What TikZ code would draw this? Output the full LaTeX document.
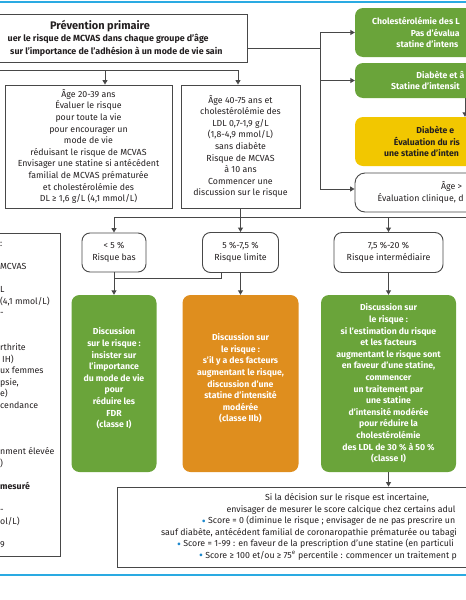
\documentclass[tikz,border=0pt]{standalone}
\usepackage{fontspec}
\setmainfont{Fira Sans}
\usetikzlibrary{positioning, arrows.meta}

\definecolor{linegray}{HTML}{484848}
\definecolor{inkgray}{HTML}{231F20}
\definecolor{boxgreen}{HTML}{6AA43A}
\definecolor{boxorange}{HTML}{DF8E1E}
\definecolor{boxyellow}{HTML}{F2C700}
\definecolor{rulerblue}{HTML}{2AAAE2}
\definecolor{dotblue}{HTML}{1E88CC}

\newcommand{\cacdot}{\raisebox{-1.4pt}{\color{dotblue}\fontsize{12}{11.6}\selectfont\textbullet}}

\tikzset{
   txt/.style={font=\fontsize{8.8}{11.6}\selectfont, text=inkgray},
   plainbox/.style={txt, draw=linegray, line width=0.9pt, align=center, inner sep=0pt},
   riskbox/.style={plainbox, rounded corners=8pt},
   colorbox/.style={align=center, inner sep=0pt, rounded corners=8pt,
      font=\fontsize{8.7}{11.6}\selectfont\bfseries},
   greenbox/.style={colorbox, fill=boxgreen, text=white},
   orangebox/.style={colorbox, fill=boxorange, text=white},
   yellowbox/.style={colorbox, fill=boxyellow, text=inkgray},
   frag/.style={txt, anchor=base west, inner sep=0pt},
   wire/.style={draw=linegray, line width=0.9pt}
}

\begin{document}
\begin{tikzpicture}[x=1pt, y=-1pt, node distance=126pt, on grid, >={Triangle[length=4.5pt, width=5pt]}]
   \useasboundingbox (0,0) rectangle (466,600);
   \draw[rulerblue, line width=2pt] (0,2) -- (466,2);
   \draw[rulerblue, line width=1.6pt] (0,575) -- (466,575);

   % top row
   \node[plainbox, font=\fontsize{8.9}{12.5}\selectfont\bfseries, minimum width=294pt, minimum height=48pt] (prev) at (100,38)
      {{\fontsize{11}{12.5}\selectfont Prévention primaire}\\
       \hphantom{Éval}uer le risque de MCVAS dans chaque groupe d'âge\\
       \hphantom{Insister }sur l'importance de l'adhésion à un mode de vie sain};
   \node[plainbox, minimum width=167pt, minimum height=123pt] (age_20) at (88.5,146.5)
      {Âge 20-39 ans\\Évaluer le risque\\pour toute la vie\\pour encourager un\\mode de vie\\
       réduisant le risque de MCVAS\\Envisager une statine si antécédent\\familial de MCVAS prématurée\\
       et cholestérolémie des\\DL ≥ 1,6 g/L (4,1 mmol/L)};
   \node[plainbox, minimum width=119pt, minimum height=123pt] (age_40) [right=152pt of age_20]
      {Âge 40-75 ans et\\cholestérolémie des\\LDL 0,7-1,9 g/L\\(1,8-4,9 mmol/L)\\sans diabète\\
       Risque de MCVAS\\à 10 ans\\Commencer une\\discussion sur le risque};

   % right column
   \node[greenbox, minimum width=220pt, minimum height=49pt] (ldl_high) at (465,32.5)
      {Cholestérolémie des L\hphantom{DL ≥ 1,9 g/L (4,9 mmol/L)}\\
       Pas d'évalua\hphantom{tion du risque :}\\
       statine d'intens\hphantom{ité élevée (classe I)}};
   \node[greenbox, minimum width=220pt, minimum height=35pt] (diab_mod) [below=48pt of ldl_high]
      {Diabète et â\hphantom{ge 40-75 ans}\\Statine d'intensit\hphantom{é modérée (classe I)}};
   \node[yellowbox, minimum width=220pt, minimum height=49pt] (diab_high) [below=61pt of diab_mod]
      {Diabète e\hphantom{t âge 40-75 ans}\\Évaluation du ris\hphantom{que pour envisager}\\
       une statine d'inten\hphantom{sité élevée (classe IIa)}};
   \node[riskbox, rounded corners=10pt, minimum width=220pt, minimum height=39pt] (age_75) [below=51pt of diab_high]
      {Âge >\hphantom{ 75 ans}\\Évaluation clinique, d\hphantom{iscussion sur le risque}};

   % risk classes
   \node[riskbox, minimum width=64pt, minimum height=39pt] (risk_low) at (114,252.5) {< 5 \%\\Risque bas};
   \node[riskbox, minimum width=76pt, minimum height=40pt] (risk_lim) [right=126.5pt of risk_low] {5 \%-7,5 \%\\Risque limite};
   \node[riskbox, minimum width=109pt, minimum height=40pt] (risk_mid) [right=148pt of risk_lim] {7,5 \%-20 \%\\Risque intermédiaire};

   \node[greenbox, minimum width=85pt, minimum height=177pt] (disc_low) [below=131pt of risk_low]
      {Discussion\\sur le risque :\\insister sur\\l'importance\\du mode de vie\\pour\\réduire les\\FDR\\(classe I)\\ \mbox{}};
   \node[orangebox, minimum width=116pt, minimum height=177pt] (disc_lim) [below=131pt of risk_lim]
      {Discussion sur\\le risque :\\s'il y a des facteurs\\augmentant le risque,\\discussion d'une\\
       statine d'intensité\\modérée\\(classe IIb)\\ \mbox{}};
   \node[greenbox, minimum width=135pt, minimum height=177pt] (disc_mid) [below=131pt of risk_mid]
      {Discussion sur\\le risque :\\si l'estimation du risque\\et les facteurs\\augmentant le risque sont\\
       en faveur d'une statine,\\commencer\\un traitement par\\une statine\\d'intensité modérée\\
       pour réduire la\\cholestérolémie\\des LDL de 30 \% à 50 \%\\(classe I)};

   \node[plainbox, minimum width=460pt, minimum height=80pt] (cac) at (347,527)
      {Si la décision sur le risque est incertaine,\\
       envisager de mesurer le score calcique chez certains adul\hphantom{tes}\\
       \cacdot{} Score = 0 (diminue le risque ; envisager de ne pas prescrire un\hphantom{e statine,}\\
       sauf diabète, antécédent familial de coronaropathie prématurée ou tabagi\hphantom{sme sont présents)}\\
       \cacdot{} Score = 1-99 : en faveur de la prescription d'une statine (en particuli\hphantom{er après 55 ans)}\\
       \cacdot{} Score ≥ 100 et/ou ≥ 75\textsuperscript{e} percentile : commencer un traitement p\hphantom{ar statine}};

   % left panel, cut by the page
   \node[plainbox, minimum width=65pt, minimum height=323pt] (panel) at (27.5,394.5) {};
   \node[frag] (p_1) at (0,246) {:};
   \node[frag] (p_2) at (0,269.2) {MCVAS};
   \node[frag] (p_3) at (0,292.4) {L};
   \node[frag] (p_4) at (0,304) {(4,1 mmol/L)};
   \node[frag] (p_5) at (0,315.6) {-};
   \node[frag] (p_6) at (0,350.4) {rthrite};
   \node[frag] (p_7) at (2,362) {IH)};
   \node[frag] (p_8) at (0,373.6) {ux femmes};
   \node[frag] (p_9) at (0,385.2) {psie,};
   \node[frag] (p_10) at (0,396.8) {e)};
   \node[frag] (p_11) at (0,408.4) {cendance};
   \node[frag] (p_12) at (0,454.8) {nment élevée};
   \node[frag] (p_13) at (0,466.4) {)};
   \node[frag, font=\fontsize{8.8}{11.6}\selectfont\bfseries] (p_14) at (0,489.6) {mesuré};
   \node[frag] (p_15) at (0,512.8) {-};
   \node[frag] (p_16) at (0,524.4) {ol/L)};
   \node[frag] (p_17) at (0,547.6) {9};

   % connectors
   \coordinate (top_bus) at (-5,70);
   \coordinate (fork_20) at (105,70);
   \coordinate (right_bus) at (320,48);
   \coordinate (mid_bus) at (475,217);

   \draw[wire, ->] (top_bus) -| ([xshift=-2.5pt]age_40.north);
   \draw[wire, ->] (fork_20) -- (fork_20 |- age_20.north);
   \draw[wire] ([yshift=-10pt]prev.east) -- (right_bus);
   \draw[wire, ->] (right_bus) |- (ldl_high);
   \draw[wire, ->] (right_bus) |- (diab_mod);
   \draw[wire, ->] (right_bus) |- ([yshift=3.5pt]age_75.west);
   \draw[wire, ->] (diab_mod) -- (diab_high);

   \draw[wire, ->] (mid_bus) -| (risk_low);
   \draw[wire, ->] (age_40) -- (risk_lim);
   \draw[wire, ->] (mid_bus -| risk_mid) -- (risk_mid);

   \draw[wire, ->] (risk_low) -- (disc_low);
   \draw[wire] ([xshift=-19pt]risk_lim.south) |- ([yshift=-5.5pt]risk_low.south);
   \draw[wire, ->] (risk_lim) -- (disc_lim);
   \draw[wire, ->] (risk_mid) -- (disc_mid);
   \draw[wire, ->] (disc_mid) -- (disc_mid |- cac.north);
\end{tikzpicture}
\end{document}
